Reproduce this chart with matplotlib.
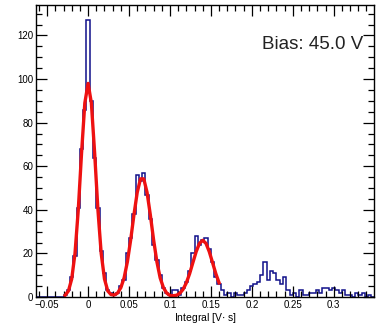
import numpy as np
import matplotlib.pyplot as plt
from matplotlib.ticker import MultipleLocator

plt.rcParams['font.family'] = ['Liberation Sans', 'DejaVu Sans']

# histogram binning (bin width 0.004 V*s, first bin centred at -0.060)
bin_width = 0.004
first_centre = -0.060

# measured integral spectrum, counts per bin
counts = [0, 0, 0, 0, 0, 0, 0, 0,
          1, 3, 9, 19, 41, 68, 86, 127, 90, 64, 41, 21, 11, 3, 2, 1,
          2, 5, 8, 20, 27, 38, 56, 53, 57, 47, 36, 24, 17, 10, 4, 2, 1,
          3, 3, 1, 4, 7, 12, 20, 28, 24, 26, 27, 22, 16, 9, 6, 3, 1, 2,
          0, 2, 1, 1, 2, 3, 5, 6, 7, 10, 16, 8, 12, 11, 8, 6, 9, 3, 1, 2,
          0, 3, 1, 1, 2, 2, 3, 2, 4, 4, 3, 4, 3, 2, 3, 1, 1, 0, 2, 1, 2,
          0, 1, 0]

# multi-gaussian fit, sampled at the bin centres from -0.028 to 0.160
fit_first_centre = -0.028
fit_vals = [0.8, 2.8, 8.3, 20, 40, 66, 89, 98, 89, 66, 40, 20, 8.3, 2.8,
            1.1, 0.9, 1.8, 4.3, 8.8, 16.2, 26.2, 37.7, 48.0, 54.2, 54.2,
            48.0, 37.7, 26.2, 16.2, 8.8, 4.3, 1.8, 0.7, 0.6, 0.8, 1.7,
            3.5, 6.5, 10.7, 15.8, 20.8, 24.6, 26.0, 24.6, 20.8, 15.8,
            10.7, 6.5]

bias_label = "Bias: 45.0 V"

edges = first_centre - bin_width / 2 + bin_width * np.arange(len(counts) + 1)
fit_x = fit_first_centre + bin_width * np.arange(len(fit_vals))

fig = plt.figure(figsize=(3.85, 3.28), dpi=100)
ax = fig.add_axes([0.094, 0.0945, 0.877, 0.8905])

ax.stairs(counts, edges, color='#10108a', lw=1.1, baseline=None)
ax.plot(fit_x, fit_vals, color='#ee1111', lw=2.4, solid_joinstyle='round')

ax.xaxis.set_major_locator(MultipleLocator(0.05))
ax.xaxis.set_minor_locator(MultipleLocator(0.01))
ax.yaxis.set_major_locator(MultipleLocator(20))
ax.yaxis.set_minor_locator(MultipleLocator(5))
ax.set_xticks([-0.05, 0, 0.05, 0.1, 0.15, 0.2, 0.25, 0.3, 0.35])
ax.set_xticklabels(['\u22120.05', '0', '0.05', '0.1', '0.15', '0.2', '0.25', '0.3', '0.35'])
ax.set_xlim(-0.0634, 0.349)
ax.set_ylim(0, 134)
ax.tick_params(which='both', direction='in', top=True, right=True,
               labelsize=7, pad=2, width=0.9)
ax.tick_params(which='major', length=8)
ax.tick_params(which='minor', length=4)
for s in ax.spines.values():
    s.set_linewidth(1.0)

ax.set_xlabel('Integral [V$\\cdot$ s]', fontsize=7.5, labelpad=1)
ax.text(0.97, 0.865, bias_label, transform=ax.transAxes, ha='right',
        va='center', fontsize=13.5, color='#222222')

fig.savefig('out.png', dpi=100)
